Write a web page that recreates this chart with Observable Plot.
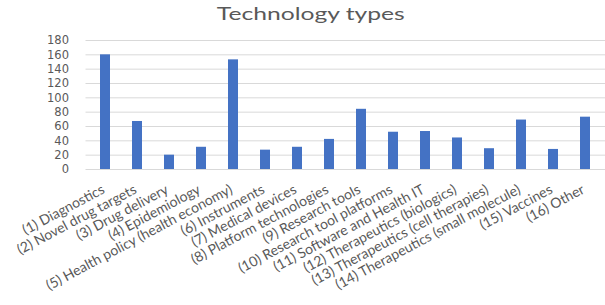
<!DOCTYPE html>
<html>
<head>
<meta charset="utf-8">
<script src="https://cdn.jsdelivr.net/npm/d3@7"></script>
<script src="https://cdn.jsdelivr.net/npm/@observablehq/plot@0.6"></script>
<style>
  html, body { margin: 0; padding: 0; background: #fff; }
  #title { width: 605px; height: 28px; line-height: 28px; text-align: center; font-family: Lato, "Open Sans", sans-serif; font-size: 17px; color: #595959; }
  #title span { display: inline-block; transform: translateX(8px) scaleX(1.45); }
  #chart { width: 605px; }
</style>
</head>
<body>
<div id="title"><span>Technology types</span></div>
<div id="chart"></div>
<script>
const categories = [
  "(1) Diagnostics",
  "(2) Novel drug targets",
  "(3) Drug delivery",
  "(4) Epidemiology",
  "(5) Health policy (health economy)",
  "(6) Instruments",
  "(7) Medical devices",
  "(8) Platform technologies",
  "(9) Research tools",
  "(10) Research tool platforms",
  "(11) Software and Health IT",
  "(12) Therapeutics (biologics)",
  "(13) Therapeutics (cell therapies)",
  "(14) Therapeutics (small molecule)",
  "(15) Vaccines",
  "(16) Other"
];
const counts = [160, 67, 20, 31, 153, 27, 31, 42, 84, 52, 53, 44, 29, 69, 28, 73];
const yTicks = [0, 20, 40, 60, 80, 100, 120, 140, 160, 180];

const data = categories.map((c, i) => ({category: c, count: counts[i]}));
const font = "Lato, 'Open Sans', sans-serif";

const chart = Plot.plot({
  width: 605,
  height: 277,
  marginTop: 12,
  marginBottom: 136,
  marginLeft: 85.5,
  marginRight: 0,
  style: {fontFamily: font, fontSize: "12px", color: "#595959", background: "#fff", overflow: "visible"},
  x: {domain: categories, paddingInner: 0.69, paddingOuter: 0.345, align: 0.5, axis: null},
  y: {domain: [0, 180], ticks: yTicks},
  marks: [
    Plot.gridY(yTicks, {stroke: "#d9d9d9", strokeOpacity: 1, strokeWidth: 1}),
    Plot.axisY(yTicks, {tickSize: 0, tickPadding: 17, label: null, fill: "#595959", fontSize: 11.5, fontFamily: "'DejaVu Sans', sans-serif"}),
    Plot.barY(data, {x: "category", y: "count", fill: "#4472C4"}),
    Plot.text(data, {x: "category", frameAnchor: "bottom", text: "category", rotate: -28, textAnchor: "end", dy: 23, dx: 0, fill: "#595959", fontSize: 14})
  ]
});
document.getElementById("chart").appendChild(chart);
</script>
</body>
</html>
